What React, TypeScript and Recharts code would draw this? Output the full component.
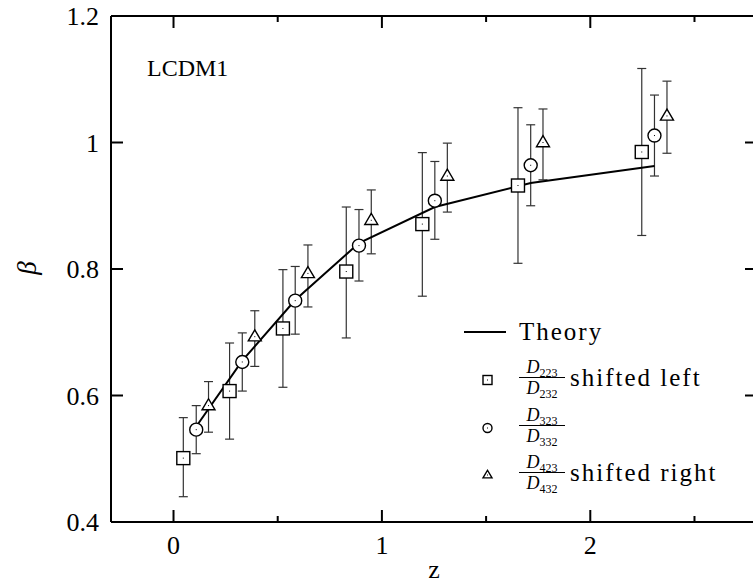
import React from 'react';
import { ScatterChart, Scatter, XAxis, YAxis, ErrorBar, Legend } from 'recharts';

// z positions and beta values
const squareZ = [0.047, 0.269, 0.525, 0.829, 1.194, 1.653, 2.247];
const squareBeta = [0.501, 0.607, 0.706, 0.796, 0.871, 0.932, 0.985];
const squareLo = [0.44, 0.531, 0.613, 0.691, 0.757, 0.809, 0.853];
const squareHi = [0.565, 0.683, 0.799, 0.898, 0.984, 1.055, 1.117];

const circleZ = [0.109, 0.33, 0.584, 0.89, 1.254, 1.714, 2.308];
const circleBeta = [0.546, 0.653, 0.75, 0.837, 0.908, 0.964, 1.011];
const circleLo = [0.508, 0.607, 0.697, 0.781, 0.847, 0.9, 0.947];
const circleHi = [0.584, 0.699, 0.804, 0.894, 0.97, 1.028, 1.075];

const triangleZ = [0.168, 0.39, 0.645, 0.949, 1.314, 1.773, 2.368];
const triangleBeta = [0.584, 0.693, 0.793, 0.877, 0.947, 1.0, 1.042];
const triangleLo = [0.542, 0.646, 0.74, 0.824, 0.89, 0.941, 0.983];
const triangleHi = [0.622, 0.734, 0.838, 0.925, 0.999, 1.053, 1.097];

const theoryZ = [0.109, 0.33, 0.584, 0.89, 1.254, 1.714, 2.308];
const theoryBeta = [0.551, 0.655, 0.751, 0.841, 0.898, 0.936, 0.963];

const xTicks = [0, 0.5, 1, 1.5, 2, 2.5];
const yTicks = [0.4, 0.6, 0.8, 1, 1.2];

const SERIF = '"Liberation Serif", "DejaVu Serif", serif';

const build = (z: number[], b: number[], lo?: number[], hi?: number[]) =>
  z.map((x, i) => ({
    z: x,
    beta: b[i],
    err: lo && hi ? [b[i] - lo[i], hi[i] - b[i]] : undefined,
  }));

const squares = build(squareZ, squareBeta, squareLo, squareHi);
const circles = build(circleZ, circleBeta, circleLo, circleHi);
const triangles = build(triangleZ, triangleBeta, triangleLo, triangleHi);
const theory = build(theoryZ, theoryBeta);

const Square = ({ cx, cy, s = 13 }: any) => (
  <g>
    <rect x={cx - s / 2} y={cy - s / 2} width={s} height={s} fill="#fff" stroke="#000" strokeWidth={1.4} />
    <rect x={cx - 0.5} y={cy - 0.5} width={1} height={1} fill="#000" />
  </g>
);

const Circle = ({ cx, cy, s = 13 }: any) => (
  <g>
    <circle cx={cx} cy={cy} r={s / 2} fill="#fff" stroke="#000" strokeWidth={1.4} />
    <rect x={cx - 0.5} y={cy - 0.5} width={1} height={1} fill="#000" />
  </g>
);

const Triangle = ({ cx, cy, s = 13 }: any) => {
  const h = s * 0.85;
  const pts = `${cx},${cy - h * 0.62} ${cx - s / 2},${cy + h * 0.38} ${cx + s / 2},${cy + h * 0.38}`;
  return (
    <g>
      <polygon points={pts} fill="#fff" stroke="#000" strokeWidth={1.4} strokeLinejoin="miter" />
      <rect x={cx - 0.5} y={cy - 0.5} width={1} height={1} fill="#000" />
    </g>
  );
};

const BottomTick = ({ x, y, payload }: any) => {
  const major = Number.isInteger(payload.value);
  return (
    <g>
      <line x1={x} x2={x} y1={y} y2={y - (major ? 12 : 6)} stroke="#000" strokeWidth={2} />
      {major && (
        <text x={x} y={y + 32} textAnchor="middle" fontFamily={SERIF} fontSize={26} fill="#000">
          {payload.value}
        </text>
      )}
    </g>
  );
};

const TopTick = ({ x, y, payload }: any) => {
  const major = Number.isInteger(payload.value);
  return <line x1={x} x2={x} y1={y} y2={y + (major ? 12 : 6)} stroke="#000" strokeWidth={2} />;
};

const LeftTick = ({ x, y, payload }: any) => (
  <g>
    <line x1={x} x2={x + 12} y1={y} y2={y} stroke="#000" strokeWidth={2} />
    <text x={x - 12} y={y} dy="0.35em" textAnchor="end" fontFamily={SERIF} fontSize={26} fill="#000">
      {String(payload.value)}
    </text>
  </g>
);

const RightTick = ({ x, y }: any) => <line x1={x} x2={x - 12} y1={y} y2={y} stroke="#000" strokeWidth={2} />;

const Frac = ({ top, num, den }: { top: number; num: string; den: string }) => {
  const part = (s: string) => (
    <span>
      <i style={{ fontSize: 18 }}>D</i>
      <span style={{ fontSize: 12, position: 'relative', top: 4 }}>{s}</span>
    </span>
  );
  return (
    <div style={{ position: 'absolute', left: 59, top: top - 20, width: 46, textAlign: 'center', fontFamily: SERIF, color: '#000' }}>
      <div style={{ height: 19, lineHeight: '19px' }}>{part(num)}</div>
      <div style={{ borderTop: '1px solid #000' }} />
      <div style={{ height: 20, lineHeight: '20px' }}>{part(den)}</div>
    </div>
  );
};

const legendText: React.CSSProperties = {
  position: 'absolute',
  fontFamily: SERIF,
  fontSize: 25,
  letterSpacing: 2,
  lineHeight: '30px',
  whiteSpace: 'nowrap',
  color: '#000',
};

const LegendBox = () => (
  <div style={{ position: 'relative', width: 300, height: 190, color: '#000' }}>
    <svg width={60} height={190} style={{ position: 'absolute', left: 0, top: 0 }}>
      <line x1={4} x2={46} y1={22} y2={22} stroke="#000" strokeWidth={2} />
      <Square cx={27.5} cy={70} s={9} />
      <Circle cx={27.5} cy={118} s={9} />
      <Triangle cx={27.5} cy={165} s={9} />
    </svg>
    <div style={{ ...legendText, left: 59, top: 7 }}>Theory</div>
    <Frac top={68} num="223" den="232" />
    <div style={{ ...legendText, left: 110, top: 53 }}>shifted left</div>
    <Frac top={116} num="323" den="332" />
    <Frac top={163} num="423" den="432" />
    <div style={{ ...legendText, left: 110, top: 148 }}>shifted right</div>
  </div>
);

const axisLine = { stroke: '#000', strokeWidth: 2 };

const App: React.FC = () => {
  return (
    <div style={{ position: 'fixed', left: 0, top: 0, width: 753, height: 585, overflow: 'hidden', background: '#fff' }}>
      <ScatterChart width={770} height={585} margin={{ top: 15, right: 12, bottom: 62, left: 110 }}>
        <XAxis
          xAxisId="b"
          type="number"
          dataKey="z"
          domain={[-0.3, 2.8]}
          allowDataOverflow
          ticks={xTicks}
          height={1}
          tickSize={0}
          tickMargin={0}
          tickLine={false}
          tick={<BottomTick />}
          interval={0}
          axisLine={axisLine}
          label={{
            content: () => (
              <text x={434} y={578} textAnchor="middle" fontFamily={SERIF} fontSize={26} fill="#000">
                z
              </text>
            ),
          }}
        />
        <XAxis
          xAxisId="t"
          orientation="top"
          type="number"
          dataKey="z"
          domain={[-0.3, 2.8]}
          allowDataOverflow
          ticks={xTicks}
          height={1}
          tickSize={0}
          tickMargin={0}
          tickLine={false}
          tick={<TopTick />}
          interval={0}
          axisLine={axisLine}
          label={{
            content: () => (
              <text x={147} y={76} fontFamily={SERIF} fontSize={24} fill="#000">
                LCDM1
              </text>
            ),
          }}
        />
        <YAxis
          yAxisId="l"
          type="number"
          dataKey="beta"
          domain={[0.4, 1.2]}
          allowDataOverflow
          ticks={yTicks}
          width={1}
          tickSize={0}
          tickMargin={0}
          tickLine={false}
          tick={<LeftTick />}
          interval={0}
          axisLine={axisLine}
          label={{
            content: () => (
              <text
                x={27}
                y={268}
                transform="rotate(-90 27 268)"
                textAnchor="middle"
                dy="0.35em"
                fontFamily={SERIF}
                fontStyle="italic"
                fontSize={27}
                fill="#000"
              >
                β
              </text>
            ),
          }}
        />
        <YAxis
          yAxisId="r"
          orientation="right"
          type="number"
          dataKey="beta"
          domain={[0.4, 1.2]}
          allowDataOverflow
          ticks={yTicks}
          width={1}
          tickSize={0}
          tickMargin={0}
          tickLine={false}
          tick={<RightTick />}
          interval={0}
          axisLine={axisLine}
        />
        <Legend
          layout="vertical"
          align="center"
          verticalAlign="middle"
          content={() => <LegendBox />}
          wrapperStyle={{ left: 460, top: 310, width: 300, height: 190 }}
        />
        <Scatter
          name="Theory"
          data={theory}
          xAxisId="b"
          yAxisId="l"
          line={{ stroke: '#000', strokeWidth: 2 }}
          lineType="joint"
          shape={() => <g />}
          isAnimationActive={false}
        />
        <Scatter name="D223/D232" data={squares} xAxisId="b" yAxisId="l" shape={<Square />} isAnimationActive={false}>
          <ErrorBar dataKey="err" direction="y" width={4.5} stroke="#333" strokeWidth={1.2} isAnimationActive={false} />
        </Scatter>
        <Scatter name="D323/D332" data={circles} xAxisId="b" yAxisId="l" shape={<Circle />} isAnimationActive={false}>
          <ErrorBar dataKey="err" direction="y" width={4.5} stroke="#333" strokeWidth={1.2} isAnimationActive={false} />
        </Scatter>
        <Scatter name="D423/D432" data={triangles} xAxisId="b" yAxisId="l" shape={<Triangle />} isAnimationActive={false}>
          <ErrorBar dataKey="err" direction="y" width={4.5} stroke="#333" strokeWidth={1.2} isAnimationActive={false} />
        </Scatter>
      </ScatterChart>
    </div>
  );
};

export default App;
